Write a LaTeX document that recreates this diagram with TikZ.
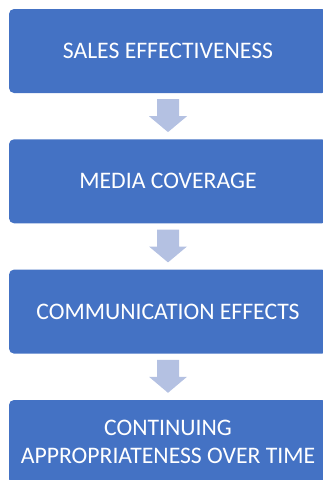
\documentclass[tikz,border=0pt]{standalone}
\usepackage{fontspec}
\setmainfont{Carlito}
\usetikzlibrary{calc}
\definecolor{boxblue}{HTML}{4472C4}
\definecolor{arrowblue}{HTML}{B4C1E2}
\tikzset{
  stagebox/.style={fill=boxblue, draw=none, rounded corners=5pt, minimum width=318pt, minimum height=84pt, text=white, font=\fontsize{23.7}{27.5}\selectfont, align=center, inner sep=0pt},
  downarrow/.style={fill=arrowblue, draw=none}
}
\newcommand{\blockarrow}[2]{%
  \fill[downarrow] ($(#1.south)+(-11pt,-6pt)$) -- ($(#1.south)+(11pt,-6pt)$) -- ($(#1.south)+(11pt,-23pt)$) -- ($(#1.south)+(19pt,-23pt)$) -- ($(#2.north)+(0,7pt)$) -- ($(#1.south)+(-19pt,-23pt)$) -- ($(#1.south)+(-11pt,-23pt)$) -- cycle;}
\begin{document}
\begin{tikzpicture}
\useasboundingbox (0,0) rectangle (323pt,-480pt);
\clip (0,0) rectangle (323pt,-480pt);
\node[stagebox] (b1) at (168pt,-51pt) {SALES EFFECTIVENESS};
\node[stagebox] (b2) at (168pt,-181.3pt) {MEDIA COVERAGE};
\node[stagebox] (b3) at (168pt,-311.6pt) {COMMUNICATION EFFECTS};
\node[stagebox] (b4) at (168pt,-442pt) {CONTINUING\\APPROPRIATENESS OVER TIME};
\blockarrow{b1}{b2}
\blockarrow{b2}{b3}
\blockarrow{b3}{b4}
\end{tikzpicture}
\end{document}
